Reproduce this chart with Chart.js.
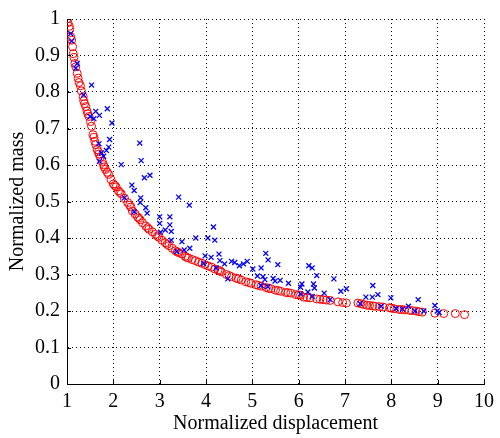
<!DOCTYPE html>
<html><head><meta charset="utf-8">
<script src="https://cdn.jsdelivr.net/npm/chart.js@4/dist/chart.umd.min.js"></script>
<style>html,body{margin:0;padding:0;background:#fff}canvas{display:block}</style>
</head><body>
<canvas id="c" width="500" height="438"></canvas>
<script>
const xTicks = [1,2,3,4,5,6,7,8,9,10];
const yTicks = [0,0.1,0.2,0.3,0.4,0.5,0.6,0.7,0.8,0.9,1];
const xTitle = 'Normalized displacement';
const yTitle = 'Normalized mass';

// blue crosses: [displacement, mass]
const bluePoints = [
 [1.08,0.960],[1.10,0.940],[1.22,0.878],[1.19,0.865],[1.53,0.819],[1.36,0.792],
 [1.62,0.747],[1.87,0.754],[1.50,0.733],[1.58,0.727],[1.70,0.736],[1.97,0.715],
 [1.69,0.658],[1.92,0.670],[1.90,0.649],[1.85,0.640],[1.74,0.633],[1.79,0.624],[1.70,0.610],
 [2.57,0.660],[2.60,0.612],[2.17,0.601],[2.79,0.572],[2.67,0.565],[2.40,0.545],[2.45,0.530],
 [2.24,0.510],[2.59,0.510],[2.58,0.497],[2.70,0.483],[2.73,0.468],[2.45,0.472],[3.00,0.458],[3.00,0.440],
 [3.41,0.512],[3.64,0.490],[3.22,0.458],[3.22,0.436],[3.12,0.422],[3.25,0.418],[3.02,0.416],[3.25,0.394],
 [3.78,0.400],[4.04,0.400],[4.16,0.430],[4.19,0.394],[3.48,0.390],[3.37,0.363],[3.53,0.367],[3.65,0.372],
 [3.98,0.351],[4.11,0.347],[4.28,0.356],[4.30,0.338],[4.40,0.329],[4.55,0.336],[4.62,0.333],[4.72,0.324],
 [4.81,0.329],[4.89,0.336],[4.47,0.288],[3.95,0.330],[4.22,0.318],
 [5.29,0.358],[5.34,0.340],[5.55,0.327],[5.01,0.315],[5.19,0.318],[5.11,0.296],[5.23,0.294],[5.27,0.286],
 [5.45,0.289],[5.49,0.282],[5.60,0.284],[5.78,0.276],[5.19,0.270],[5.33,0.267],
 [6.22,0.324],[6.29,0.318],[6.39,0.297],[6.76,0.288],[6.07,0.274],[6.04,0.265],[6.32,0.274],[6.34,0.263],
 [6.20,0.252],[6.29,0.240],[6.55,0.249],[6.91,0.254],[7.03,0.261],[6.68,0.231],[6.04,0.247],
 [7.33,0.220],[7.45,0.238],[7.60,0.270],[7.59,0.238],[7.71,0.245],[7.99,0.236],
 [8.37,0.213],[8.58,0.231],[8.51,0.200],[8.70,0.200],[8.94,0.215],[8.99,0.200],[9.03,0.196],
 [7.78,0.213],[8.10,0.207],[8.24,0.205]
];

// red circles: [displacement, mass]
const redPoints = [
 [1.00,1.000],[1.02,0.990],[1.05,0.980],[1.06,0.972],[1.08,0.951],[1.10,0.942],[1.12,0.924],[1.135,0.905],
 [1.15,0.895],[1.17,0.878],[1.19,0.869],[1.22,0.851],[1.24,0.838],[1.26,0.826],[1.29,0.817],[1.31,0.803],
 [1.35,0.787],[1.36,0.776],[1.38,0.768],[1.405,0.760],[1.43,0.748],[1.45,0.740],[1.475,0.733],[1.505,0.719],
 [1.53,0.706],[1.56,0.683],[1.58,0.676],[1.60,0.665],[1.62,0.656],[1.65,0.642],[1.69,0.630],[1.72,0.621],
 [1.76,0.610],[1.79,0.601],[1.83,0.588],[1.87,0.580],[1.90,0.574],[1.95,0.560],[2.00,0.548],[2.06,0.540],
 [2.11,0.529],[2.17,0.521],[2.24,0.509],[2.31,0.497],[2.38,0.485],[2.41,0.474],[2.47,0.466],[2.52,0.458],
 [2.58,0.450],[2.63,0.442],[2.70,0.433],[2.77,0.424],[2.84,0.417],[2.91,0.410],[2.98,0.402],[3.05,0.394],
 [3.12,0.387],[3.20,0.379],[3.27,0.372],[3.34,0.365],[3.41,0.360],[3.48,0.356],[3.55,0.350],[3.62,0.345],
 [3.70,0.341],[3.77,0.338],[3.84,0.334],[3.91,0.331],[3.98,0.327],[4.05,0.323],[4.12,0.320],[4.19,0.315],
 [4.26,0.312],[4.33,0.307],[4.44,0.300],[4.55,0.294],[4.65,0.290],[4.76,0.285],[4.86,0.280],[4.97,0.276],
 [5.08,0.272],[5.19,0.268],[5.30,0.264],[5.40,0.261],[5.50,0.257],[5.61,0.254],[5.72,0.251],[5.83,0.249],
 [5.94,0.245],[6.04,0.243],[6.11,0.238],[6.25,0.236],[6.39,0.233],[6.53,0.231],[6.68,0.229],[6.85,0.225],
 [7.03,0.222],[7.28,0.222],[7.40,0.218],[7.53,0.215],[7.65,0.213],[7.82,0.211],[7.96,0.209],[8.06,0.206],
 [8.17,0.204],[8.28,0.203],[8.38,0.202],[8.53,0.200],[8.67,0.197],[8.94,0.194],[9.13,0.193],[9.38,0.193],
 [9.58,0.190],
 [1.68,0.636],[1.80,0.595],[2.03,0.544],[2.14,0.525],[2.35,0.490],[2.55,0.454],[2.74,0.428],[2.95,0.405],
 [3.16,0.383],[3.38,0.362],[3.58,0.347],[4.30,0.310],[4.50,0.297],[4.70,0.288],[4.92,0.278],[5.13,0.270],
 [5.35,0.262],[5.56,0.256],[5.77,0.250],[6.00,0.244],[6.18,0.237],[6.46,0.232],[6.60,0.230],[6.95,0.223],
 [7.34,0.220],[7.47,0.216],[7.60,0.214],[7.74,0.212],[8.00,0.208],[8.22,0.204],[8.45,0.201],[8.60,0.198]
];

const FONT = 'Liberation Serif';
const toXY = a => a.map(p => ({x:p[0], y:p[1]}));

const inwardTicks = {
  id:'inwardTicks',
  afterDatasetsDraw(chart){
    const ctx = chart.ctx, xs = chart.scales.x, ys = chart.scales.y;
    const a = chart.chartArea;
    ctx.save();
    ctx.strokeStyle = '#000'; ctx.lineWidth = 1;
    ctx.beginPath();
    xTicks.forEach(v => { const px = Math.round(xs.getPixelForValue(v)) + 0.5;
      ctx.moveTo(px, a.bottom); ctx.lineTo(px, a.bottom - 4); });
    yTicks.forEach(v => { const py = Math.round(ys.getPixelForValue(v)) + 0.5;
      ctx.moveTo(a.left, py); ctx.lineTo(a.left + 4, py); });
    ctx.stroke();
    ctx.restore();
  }
};

new Chart(document.getElementById('c'), {
  type:'scatter',
  data:{ datasets:[
    { label:'blue', data:toXY(bluePoints), pointStyle:'crossRot', pointRadius:3.5,
      borderColor:'rgb(0,0,255)', backgroundColor:'rgb(0,0,255)', pointBorderWidth:1.3, order:0 },
    { label:'red', data:toXY(redPoints), pointStyle:'circle', pointRadius:4,
      borderColor:'rgb(255,0,0)', backgroundColor:'rgba(0,0,0,0)', pointBorderWidth:1, order:1 }
  ]},
  options:{
    responsive:false, animation:false,
    layout:{padding:{top:17,right:11,left:0,bottom:0}},
    plugins:{legend:{display:false}, tooltip:{enabled:false}},
    scales:{
      x:{ type:'linear', min:1, max:10,
        afterBuildTicks(s){ s.ticks = xTicks.map(v=>({value:v})); },
        afterFit(s){ s.height = 54; },
        ticks:{ color:'#000', font:{family:FONT, size:20}, padding:6, maxRotation:0, autoSkip:false,
          callback:v=>String(v) },
        grid:{ color:'#000', lineWidth:1, drawTicks:false },
        border:{ display:true, color:'#000', width:1, dash:[1,3] },
        title:{ display:true, text:xTitle, color:'#000', font:{family:FONT, size:20}, padding:{top:0,bottom:2} }
      },
      y:{ type:'linear', min:0, max:1,
        afterBuildTicks(s){ s.ticks = yTicks.map(v=>({value:v})); },
        afterFit(s){ s.width = 67; },
        ticks:{ color:'#000', font:{family:FONT, size:20}, padding:7, autoSkip:false,
          callback:v=>String(Math.round(v*10)/10) },
        grid:{ color:'#000', lineWidth:1, drawTicks:false },
        border:{ display:true, color:'#000', width:1, dash:[1,3] },
        title:{ display:true, text:yTitle, color:'#000', font:{family:FONT, size:20}, padding:{top:6,bottom:0} }
      }
    }
  },
  plugins:[inwardTicks]
});
</script>
</body></html>
